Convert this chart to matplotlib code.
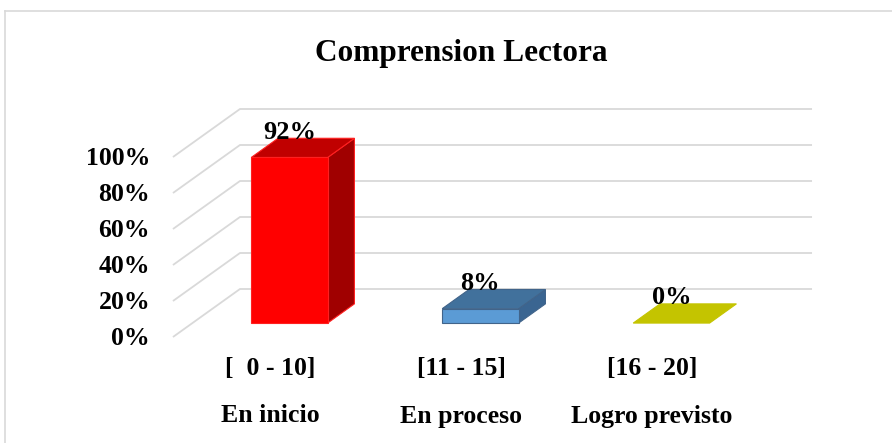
import matplotlib
matplotlib.use("Agg")
import matplotlib.pyplot as plt
from matplotlib.patches import Polygon
from matplotlib.lines import Line2D

# ---- data ----
ranges = ["[  0 - 10]", "[11 - 15]", "[16 - 20]"]
levels = ["En inicio", "En proceso", "Logro previsto"]
values = [92, 8, 0]
value_labels = ["92%", "8%", "0%"]
yticks = [0, 20, 40, 60, 80, 100]
ytick_labels = ["0%", "20%", "40%", "60%", "80%", "100%"]
title = "Comprension Lectora"

# ---- style ----
front_cols = ["#FF0000", "#5B9BD5", "#C4C400"]
top_cols = ["#C00000", "#41719C", "#C4C400"]
side_cols = ["#A00000", "#3A6591", "#A5A500"]
edge_cols = ["#FF2020", "#41648A", "#C4C400"]
grid_col = "#D9D9D9"
FONT = ["Liberation Serif", "DejaVu Serif"]

W, H = 892, 443
fig = plt.figure(figsize=(W / 100, H / 100), dpi=100)
ax = fig.add_axes([0, 0, 1, 1])

# front plane mapping: x = category index, y = percent
px_x0, px_step = 270.0, 191.0      # pixel of category 0, px per category
px_y0, px_per = 337.0, 1.8         # pixel (from top) of 0 %, px per percent
ax.set_xlim(-px_x0 / px_step, (W - px_x0) / px_step)
ax.set_ylim((px_y0 - H) / px_per, px_y0 / px_per)
ax.axis("off")

# perspective offset for unit depth (data units)
DX = 67.0 / px_step
DY = 48.0 / px_per


def off(x, y, d):
    return (x + DX * d, y + DY * d)


# ---- gridlines: left wall and back wall ----
x_left = -0.508
x_right = 2.487
for t in yticks:
    p0 = off(x_left, t, 0)
    p1 = off(x_left, t, 1)
    p2 = off(x_right, t, 1)
    ax.add_line(Line2D([p0[0], p1[0], p2[0]], [p0[1], p1[1], p2[1]],
                       color=grid_col, lw=1.3, zorder=1, solid_capstyle="butt"))

# ---- 3D bars ----
half = 0.2
d0, d1 = 0.29, 0.69
for i, v in enumerate(values):
    xl, xr = i - half, i + half
    front = [off(xl, 0, d0), off(xr, 0, d0), off(xr, v, d0), off(xl, v, d0)]
    side = [off(xr, 0, d0), off(xr, 0, d1), off(xr, v, d1), off(xr, v, d0)]
    top = [off(xl, v, d0), off(xr, v, d0), off(xr, v, d1), off(xl, v, d1)]
    if v > 0:
        ax.add_patch(Polygon(side, closed=True, fc=side_cols[i], ec=edge_cols[i], lw=0.8, zorder=3))
    ax.add_patch(Polygon(top, closed=True, fc=top_cols[i], ec=edge_cols[i], lw=0.8, zorder=3))
    if v > 0:
        ax.add_patch(Polygon(front, closed=True, fc=front_cols[i], ec=edge_cols[i], lw=0.8, zorder=4))
    lx, ly = off(i, v, d0)
    ax.text(lx, ly + 14, value_labels[i], ha="center", va="center",
            fontsize=19, fontweight="bold", family=FONT, zorder=5)

# ---- y tick labels ----
for t, lab in zip(yticks, ytick_labels):
    ax.text(-0.628, t - 0.8, lab, ha="right", va="center",
            fontsize=18.5, fontweight="bold", family=FONT)

# ---- category labels ----
for i, (r, l) in enumerate(zip(ranges, levels)):
    ax.text(i, (px_y0 - 369) / px_per, r, ha="center", va="center",
            fontsize=18.5, fontweight="bold", family=FONT)
    ax.text(i, (px_y0 - 416) / px_per, l, ha="center", va="center",
            fontsize=18.5, fontweight="bold", family=FONT)

# ---- title ----
fig.text(461 / W, 1 - 53 / H, title, ha="center", va="center",
         fontsize=22.5, fontweight="bold", family=FONT)

# ---- chart frame (cropped on right and bottom) ----
fig.add_artist(Line2D([4.5 / W, 1.0], [1 - 11 / H, 1 - 11 / H],
                      transform=fig.transFigure, color="#D9D9D9", lw=1.2))
fig.add_artist(Line2D([4.5 / W, 4.5 / W], [1 - 11 / H, 0.0],
                      transform=fig.transFigure, color="#D9D9D9", lw=1.2))

fig.savefig("out.png", dpi=100, facecolor="white")
